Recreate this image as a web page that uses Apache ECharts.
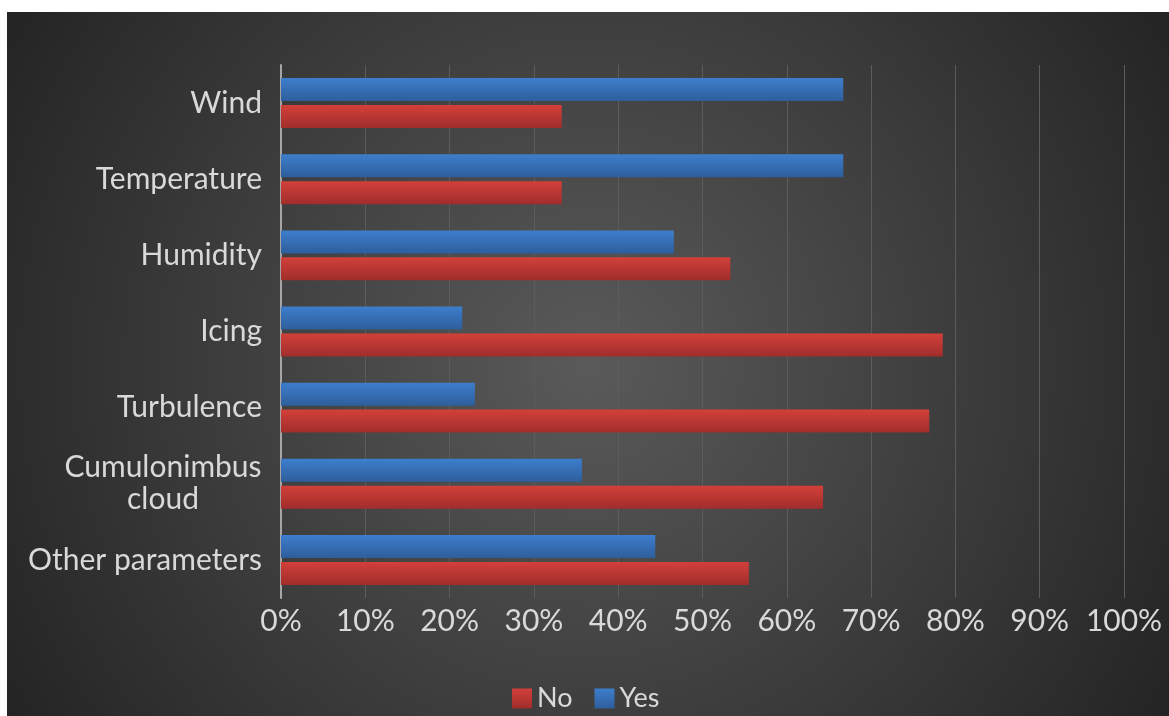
<!DOCTYPE html>
<html>
<head>
<meta charset="utf-8">
<script src="https://cdn.jsdelivr.net/npm/echarts@6/dist/echarts.min.js"></script>
<style>
  html, body { margin: 0; padding: 0; background: #fff; }
  #chart { position: absolute; left: 7px; top: 12px; width: 1162px; height: 704px; }
</style>
</head>
<body>
<div id="chart"></div>
<script>
// categories listed bottom -> top (category axis starts at the bottom)
var categories = ['Other parameters', 'Cumulonimbus cloud', 'Turbulence', 'Icing', 'Humidity', 'Temperature', 'Wind'];
var noValues = [55.5, 64.3, 76.9, 78.5, 53.3, 33.3, 33.3];
var yesValues = [44.4, 35.7, 23.0, 21.5, 46.6, 66.7, 66.7];
var tickLabels = ['0%', '10%', '20%', '30%', '40%', '50%', '60%', '70%', '80%', '90%', '100%'];

var labelColor = '#d9d9d9';
var fontName = 'Lato, "Open Sans", sans-serif';
var labelSize = 30;

// width of the longest line of the wrapped label, so "cloud" sits centred under it
var ctx = document.createElement('canvas').getContext('2d');
ctx.font = labelSize + 'px ' + fontName;
var wrapWidth = Math.ceil(ctx.measureText('Cumulonimbus').width);

function vgrad(top, bottom) {
  return new echarts.graphic.LinearGradient(0, 0, 0, 1, [
    { offset: 0, color: top },
    { offset: 1, color: bottom }
  ]);
}

var myChart = echarts.init(document.getElementById('chart'));
var option = {
  backgroundColor: new echarts.graphic.RadialGradient(0.5, 0.5, 1, [
    { offset: 0, color: '#5a5a5a' },
    { offset: 1, color: '#222222' }
  ]),
  textStyle: { fontFamily: fontName },
  grid: { left: 274, right: 45, top: 53, bottom: 118 },
  legend: {
    top: 668,
    left: 500,
    itemWidth: 20,
    itemHeight: 20,
    itemGap: 22,
    icon: 'rect',
    textStyle: { color: labelColor, fontSize: 27, fontFamily: fontName },
    data: ['No', 'Yes']
  },
  xAxis: {
    type: 'value',
    min: 0,
    max: 100,
    interval: 10,
    axisLine: { show: false },
    axisTick: { show: false },
    splitLine: { lineStyle: { color: '#5c5c5c', width: 1 } },
    axisLabel: {
      color: labelColor,
      fontSize: labelSize,
      margin: 8,
      formatter: function (v) { return tickLabels[Math.round(v / 10)]; }
    }
  },
  yAxis: {
    type: 'category',
    data: categories,
    axisLine: { lineStyle: { color: '#a6a6a6', width: 2 } },
    axisTick: { show: false },
    axisLabel: {
      color: labelColor,
      fontSize: labelSize,
      margin: 19,
      formatter: function (v) {
        if (v === 'Cumulonimbus cloud') return '{c|Cumulonimbus}\n{c|cloud}';
        return v;
      },
      rich: {
        c: { width: wrapWidth, align: 'center', fontSize: labelSize, lineHeight: 32, color: labelColor, fontFamily: fontName }
      }
    }
  },
  series: [
    {
      name: 'Yes',
      type: 'bar',
      data: yesValues,
      barWidth: 23,
      barGap: '17%',
      itemStyle: { color: vgrad('#3d7ecc', '#2e5e9c') }
    },
    {
      name: 'No',
      type: 'bar',
      data: noValues,
      barWidth: 23,
      barGap: '17%',
      itemStyle: { color: vgrad('#d3403a', '#a02d2b') }
    }
  ]
};
myChart.setOption(option);
</script>
</body>
</html>
